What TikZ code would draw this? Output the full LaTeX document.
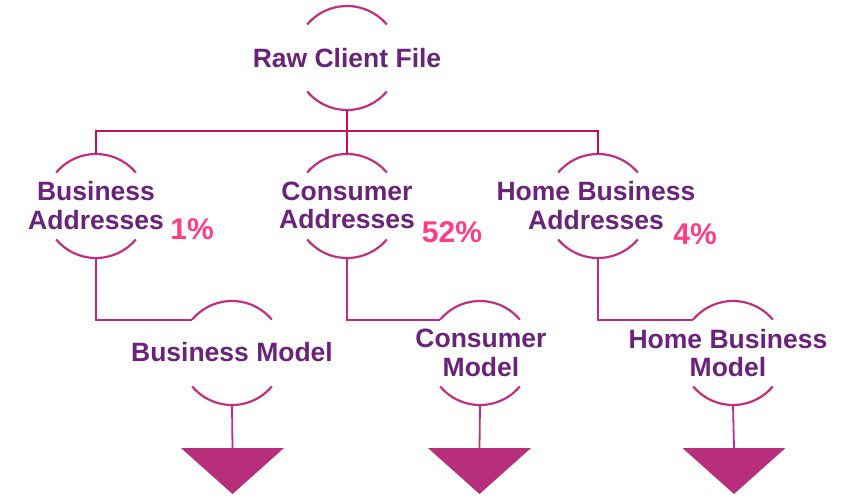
\documentclass[tikz,border=0pt]{standalone}
\usepackage{fontspec}
\setmainfont{Liberation Sans}
\usetikzlibrary{calc}
\definecolor{txtpurple}{HTML}{6A227A}
\definecolor{treered}{HTML}{C4105A}
\definecolor{arcpink}{HTML}{C0307E}
\definecolor{linkpink}{HTML}{BC2E86}
\definecolor{tripink}{HTML}{B72F7B}
\definecolor{pctpink}{HTML}{FF3D85}
\begin{document}
\begin{tikzpicture}[x=1pt,y=1pt,
  bubble/.style={inner sep=0pt, align=center, text=txtpurple,
    font=\fontsize{26.5}{28.5}\selectfont\bfseries},
  pct/.style={inner sep=0pt, text=pctpink,
    font=\fontsize{30}{32}\selectfont\bfseries},
  arcline/.style={draw=arcpink, line width=2.2pt},
  trunk/.style={draw=treered, line width=2.3pt},
  link/.style={draw=linkpink, line width=2pt},
  stem/.style={draw=linkpink, line width=1.8pt},
  tri/.style={fill=tripink}]
\useasboundingbox (0,0) rectangle (851,-496);

% bubble centres (the arcs are drawn round these)
\coordinate (raw-c) at (347,-58);
\coordinate (ba-c) at (96,-206);
\coordinate (ca-c) at (347,-206);
\coordinate (ha-c) at (598,-206);
\coordinate (bm-c) at (232,-353);
\coordinate (cm-c) at (480,-353);
\coordinate (hm-c) at (733,-353);

% bubble texts
\node[bubble] (raw) at (raw-c) {Raw Client File};
\node[bubble] (ba) at (96,-205.5) {Business\\Addresses};
\node[bubble] (ca) at (347,-205.5) {Consumer\\Addresses};
\node[bubble] (ha) at (596,-205.5) {Home Business\\Addresses};
\node[bubble] (bm) at (232,-352) {Business Model};
\node[bubble] (cm) at (481,-353) {Consumer\\Model};
\node[bubble] (hm) at (728,-353) {Home Business\\Model};

% shares
\node[pct] (bapct) at (192,-229) {1\%};
\node[pct] (capct) at (452,-232) {52\%};
\node[pct] (hapct) at (695,-234) {4\%};

% open arcs above and below each bubble, with attachment points
\foreach \n in {raw,ba,ca,ha,bm,cm,hm}{
  \draw[arcline] (\n-c) ++(140:52) arc[start angle=140, end angle=40, radius=52];
  \draw[arcline] (\n-c) ++(220:52) arc[start angle=220, end angle=320, radius=52];
  \coordinate (\n-top) at ($(\n-c)+(0,52)$);
  \coordinate (\n-bot) at ($(\n-c)+(0,-52)$);
  \coordinate (\n-in) at ($(\n-c)+(140:52)$);
}

% tree from the raw file to the address groups
\coordinate (split) at (347,-131);
\draw[trunk] (raw-bot) -- (split);
\draw[trunk] (ba-top) |- (split) -| (ha-top);
\draw[trunk] (split) -- (ca-top);

% address groups into their models
\draw[link] (ba-bot) |- (bm-in);
\draw[link] (ca-bot) |- (cm-in);
\draw[link] (ha-bot) |- (hm-in);

% output funnels
\foreach \n/\x in {bm/232.5,cm/479.5,hm/734}{
  \coordinate (\n-tri) at (\x,-448);
  \fill[tri] (\n-tri) ++(-51.5,0) -- ++(103,0) -- ++(-51.5,-46) -- cycle;
  \draw[stem] (\n-bot) -- (\n-tri);
}
\end{tikzpicture}
\end{document}
